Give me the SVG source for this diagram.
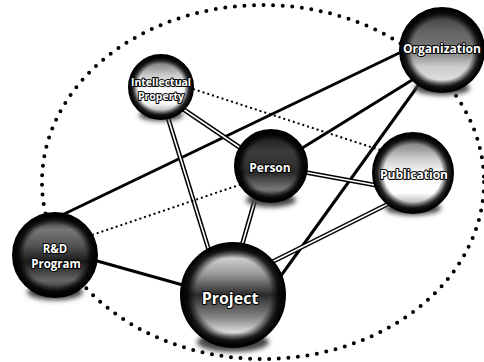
<svg xmlns="http://www.w3.org/2000/svg" width="484" height="362" viewBox="0 0 484 362">
  <defs>
    <style>
      .boundary { fill: none; stroke: #000; stroke-width: 4; stroke-linecap: round; stroke-dasharray: 0 9.6; }
      .solid { stroke: #000; stroke-width: 3; fill: none; }
      .rail-out { stroke: #000; stroke-width: 4.6; fill: none; }
      .rail-in { stroke: #fff; stroke-width: 1.6; fill: none; }
      .dotted { stroke: #000; stroke-width: 2; stroke-dasharray: 2 3; fill: none; }
      .label { font-family: "Open Sans", "DejaVu Sans", sans-serif; font-weight: 700; fill: #fff; text-anchor: middle; stroke: #000; stroke-width: 2; paint-order: stroke; stroke-linejoin: round; }
      .rim { fill: url(#rim); stroke: #000; stroke-width: 2; }
      .shadow { fill: #444; filter: url(#soft); }
    </style>
    <filter id="soft" x="-50%" y="-100%" width="200%" height="300%">
      <feGaussianBlur stdDeviation="2.5"/>
    </filter>
    <radialGradient id="rim" cx="0.5" cy="0.5" r="0.5">
      <stop offset="0" stop-color="#000" stop-opacity="0"/>
      <stop offset="0.72" stop-color="#000" stop-opacity="0"/>
      <stop offset="0.88" stop-color="#000" stop-opacity="0.85"/>
      <stop offset="1" stop-color="#000" stop-opacity="1"/>
    </radialGradient>
    <linearGradient id="g-light" x1="0" y1="0" x2="0" y2="1">
      <stop offset="0" stop-color="#222"/>
      <stop offset="0.14" stop-color="#888"/>
      <stop offset="0.32" stop-color="#ccc"/>
      <stop offset="0.5" stop-color="#fafafa"/>
      <stop offset="0.75" stop-color="#fff"/>
      <stop offset="0.9" stop-color="#aaa"/>
      <stop offset="1" stop-color="#222"/>
    </linearGradient>
    <linearGradient id="g-dark" x1="0" y1="0" x2="0" y2="1">
      <stop offset="0" stop-color="#111"/>
      <stop offset="0.3" stop-color="#3c3c3c"/>
      <stop offset="0.6" stop-color="#2a2a2a"/>
      <stop offset="0.82" stop-color="#777"/>
      <stop offset="1" stop-color="#1a1a1a"/>
    </linearGradient>
    <linearGradient id="g-org" x1="0" y1="0" x2="0" y2="1">
      <stop offset="0" stop-color="#333"/>
      <stop offset="0.3" stop-color="#666"/>
      <stop offset="0.5" stop-color="#777"/>
      <stop offset="0.7" stop-color="#ccc"/>
      <stop offset="0.85" stop-color="#ddd"/>
      <stop offset="1" stop-color="#444"/>
    </linearGradient>
    <linearGradient id="g-rd" x1="0" y1="0" x2="0" y2="1">
      <stop offset="0" stop-color="#111"/>
      <stop offset="0.2" stop-color="#777"/>
      <stop offset="0.38" stop-color="#555"/>
      <stop offset="0.58" stop-color="#1a1a1a"/>
      <stop offset="0.8" stop-color="#666"/>
      <stop offset="1" stop-color="#111"/>
    </linearGradient>
    <linearGradient id="g-proj" x1="0" y1="0" x2="0" y2="1">
      <stop offset="0" stop-color="#222"/>
      <stop offset="0.15" stop-color="#ccc"/>
      <stop offset="0.3" stop-color="#999"/>
      <stop offset="0.5" stop-color="#2a2a2a"/>
      <stop offset="0.72" stop-color="#888"/>
      <stop offset="0.86" stop-color="#ddd"/>
      <stop offset="1" stop-color="#333"/>
    </linearGradient>
  </defs>

  <rect width="484" height="362" fill="#fff"/>

  <!-- dotted boundary around the network -->
  <ellipse class="boundary" cx="263" cy="182" rx="221" ry="177"/>

  <g id="connectors">
    <!-- solid links -->
    <line class="solid" x1="60" y1="216" x2="420" y2="43"/>
    <line class="solid" x1="270" y1="168" x2="425" y2="72"/>
    <line class="solid" x1="275" y1="284" x2="420" y2="83"/>
    <line class="solid" x1="90" y1="259" x2="190" y2="287"/>
    <!-- double-rail links -->
    <line class="rail-out" x1="180" y1="107" x2="245" y2="151"/>
    <line class="rail-in" x1="180" y1="107" x2="245" y2="151"/>
    <line class="rail-out" x1="168" y1="118" x2="210" y2="254"/>
    <line class="rail-in" x1="168" y1="118" x2="210" y2="254"/>
    <line class="rail-out" x1="255" y1="200" x2="240" y2="252"/>
    <line class="rail-in" x1="255" y1="200" x2="240" y2="252"/>
    <line class="rail-out" x1="298" y1="171" x2="380" y2="186"/>
    <line class="rail-in" x1="298" y1="171" x2="380" y2="186"/>
    <line class="rail-out" x1="392" y1="202" x2="268" y2="264"/>
    <line class="rail-in" x1="392" y1="202" x2="268" y2="264"/>
    <!-- dotted links -->
    <line class="dotted" x1="193" y1="89" x2="380" y2="150"/>
    <line class="dotted" x1="92" y1="235" x2="245" y2="183"/>
  </g>

  <g id="intellectual-property">
    <ellipse class="shadow" cx="161" cy="115" rx="22" ry="6"/>
    <circle cx="161" cy="87" r="32" fill="url(#g-light)"/>
    <circle class="rim" cx="161" cy="87" r="32"/>
    <text class="label" x="161" y="86" font-size="10.5">Intellectual</text>
    <text class="label" x="161" y="100" font-size="10.5">Property</text>
  </g>

  <g id="person">
    <ellipse class="shadow" cx="271" cy="200" rx="25" ry="7"/>
    <circle cx="271" cy="166" r="36" fill="url(#g-dark)"/>
    <circle class="rim" cx="271" cy="166" r="36"/>
    <text class="label" x="270" y="172" font-size="12">Person</text>
  </g>

  <g id="publication">
    <ellipse class="shadow" cx="413" cy="208" rx="28" ry="7"/>
    <circle cx="413" cy="173" r="40" fill="url(#g-light)"/>
    <circle class="rim" cx="413" cy="173" r="40"/>
    <text class="label" x="414" y="179" font-size="12">Publication</text>
  </g>

  <g id="organization">
    <ellipse class="shadow" cx="442" cy="88" rx="28" ry="7"/>
    <circle cx="442" cy="50" r="42" fill="url(#g-org)"/>
    <circle class="rim" cx="442" cy="50" r="42"/>
    <text class="label" x="442" y="53" font-size="12">Organization</text>
  </g>

  <g id="rd-program">
    <ellipse class="shadow" cx="55" cy="292" rx="28" ry="8"/>
    <circle cx="55" cy="255" r="42" fill="url(#g-rd)"/>
    <circle class="rim" cx="55" cy="255" r="42"/>
    <text class="label" x="55" y="253" font-size="11.5">R&amp;D</text>
    <text class="label" x="56" y="268" font-size="11.5">Program</text>
  </g>

  <g id="project">
    <ellipse class="shadow" cx="233" cy="342" rx="36" ry="10"/>
    <circle cx="233" cy="295" r="52" fill="url(#g-proj)"/>
    <circle class="rim" cx="233" cy="295" r="52"/>
    <text class="label" x="230" y="304" font-size="16">Project</text>
  </g>
</svg>
